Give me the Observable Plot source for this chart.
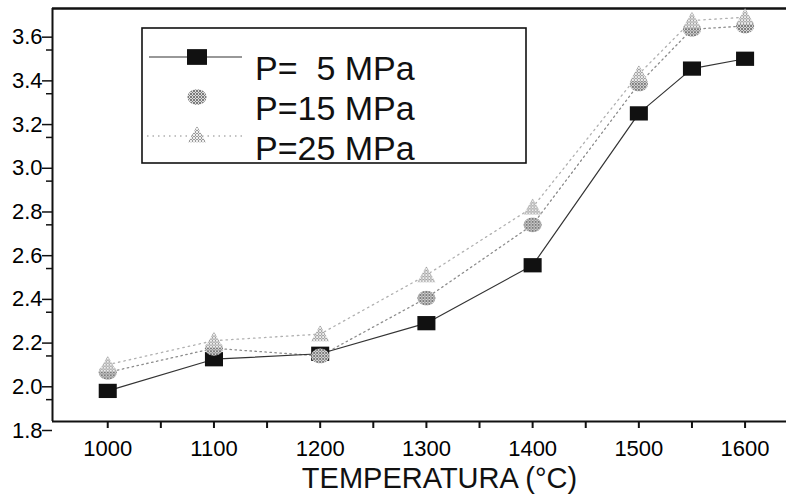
<!DOCTYPE html>
<html><head><meta charset="utf-8">
<script src="https://cdn.jsdelivr.net/npm/d3@7"></script>
<script src="https://cdn.jsdelivr.net/npm/@observablehq/plot@0.6"></script>
<style>
body{margin:0;background:#fff}
#chart{position:relative;width:786px;height:494px}
</style>
</head><body><div id="chart"></div>
<script>
// ---- data ----
const temperatures = [1000, 1100, 1200, 1300, 1400, 1500, 1550, 1600];
const p5  = [1.94, 2.085, 2.11, 2.25, 2.515, 3.21, 3.415, 3.46];
const p15 = [2.025, 2.135, 2.10, 2.365, 2.70, 3.345, 3.595, 3.61];
const p25 = [2.06, 2.17, 2.20, 2.47, 2.78, 3.39, 3.635, 3.65];
const seriesNames = ["P=  5 MPa", "P=15 MPa", "P=25 MPa"];
const xTicks = [1000, 1100, 1200, 1300, 1400, 1500, 1600];
const xMinorTicks = [1050, 1150, 1250, 1350, 1450, 1550];
const yTicks = [1.8, 2.0, 2.2, 2.4, 2.6, 2.8, 3.0, 3.2, 3.4, 3.6];
const yMinorTicks = [1.9, 2.1, 2.3, 2.5, 2.7, 2.9, 3.1, 3.3, 3.5];
const xTitle = "TEMPERATURA (°C)";
const xDomain = [948, 1639];
const yDomain = [1.8, 3.69];

const rows = (vals) => temperatures.map((t, i) => ({t, v: vals[i]}));
const d5 = rows(p5), d15 = rows(p15), d25 = rows(p25);

// ---- custom symbols ----
const wideSquare = {draw(ctx, size){const r=Math.sqrt(size/Math.PI);const w=r*0.95,h=r*0.75;ctx.moveTo(-w,-h);ctx.lineTo(w,-h);ctx.lineTo(w,h);ctx.lineTo(-w,h);ctx.closePath();}};
const ellipse = {draw(ctx, size){const r=Math.sqrt(size/Math.PI);const a=r*0.95,b=r*0.78,k=0.5523;
  ctx.moveTo(a,0);ctx.bezierCurveTo(a,b*k,a*k,b,0,b);ctx.bezierCurveTo(-a*k,b,-a,b*k,-a,0);
  ctx.bezierCurveTo(-a,-b*k,-a*k,-b,0,-b);ctx.bezierCurveTo(a*k,-b,a,-b*k,a,0);ctx.closePath();}};
const tri = {draw(ctx, size){const r=Math.sqrt(size/Math.PI);ctx.moveTo(0,-r*0.95);ctx.lineTo(r*0.95,r*0.75);ctx.lineTo(-r*0.95,r*0.75);ctx.closePath();}};

const font = "'Liberation Sans', Arial, sans-serif";

const plot = Plot.plot({
  width: 786, height: 494,
  marginLeft: 52, marginRight: 0, marginTop: 8, marginBottom: 73,
  style: {fontFamily: font, background: "#fff", color: "#000", overflow: "visible"},
  x: {domain: xDomain},
  y: {domain: yDomain},
  marks: [
    Plot.ruleY([yDomain[1]], {stroke: "#111", strokeWidth: 2.5}),
    Plot.ruleX([xDomain[0]], {stroke: "#111", strokeWidth: 2}),
    Plot.ruleY([yDomain[0]], {stroke: "#111", strokeWidth: 2}),
    Plot.axisX(xTicks, {tickSize: 7, tickPadding: 12, fontSize: 22, label: null, tickFormat: d3.format("d"), strokeWidth: 2, stroke: "#111"}),
    Plot.axisX(xMinorTicks, {tickSize: 7, tickFormat: () => "", label: null, strokeWidth: 2, stroke: "#111"}),
    Plot.axisY(yTicks, {tickSize: 10, tickPadding: 0, dy: 9, fontSize: 22, label: null, tickFormat: d3.format(".1f"), strokeWidth: 1.5, stroke: "#111"}),
    Plot.axisY(yMinorTicks, {tickSize: 6, tickFormat: () => "", label: null, strokeWidth: 1.5, stroke: "#111"}),
    Plot.text([xTitle], {frameAnchor: "bottom", dy: 57, dx: 20, fontSize: 29, lineAnchor: "middle", fill: "#111"}),
    Plot.line(d25, {x: "t", y: "v", stroke: "#b0b0b0", strokeWidth: 1.3, strokeDasharray: "1.5,4"}),
    Plot.line(d15, {x: "t", y: "v", stroke: "#8c8c8c", strokeWidth: 1.3, strokeDasharray: "1.5,3.5"}),
    Plot.line(d5, {x: "t", y: "v", stroke: "#333", strokeWidth: 1.2}),
    Plot.dot(d5, {x: "t", y: "v", symbol: wideSquare, r: 9.5, fill: "#111", stroke: "none"}),
    Plot.dot(d15, {x: "t", y: "v", symbol: ellipse, r: 9.5, fill: "url(#stip15)", stroke: "none"}),
    Plot.dot(d25, {x: "t", y: "v", symbol: tri, r: 9.5, fill: "url(#stip25)", stroke: "none"})
  ]
});

document.getElementById("chart").appendChild(plot);
const svg = d3.select(plot);

// patterns
const defs = svg.insert("defs", ":first-child");
function pattern(id, bg, fg, cells){
  const p = defs.append("pattern").attr("id", id).attr("patternUnits","userSpaceOnUse").attr("width",3).attr("height",3);
  p.append("rect").attr("width",3).attr("height",3).attr("fill",bg);
  cells.forEach(([x,y]) => p.append("rect").attr("x",x).attr("y",y).attr("width",1).attr("height",1).attr("fill",fg));
}
pattern("stip15", "#dcdcdc", "#7c7c7c", [[0,0],[2,0],[1,1],[0,2],[2,2]]);
pattern("stip25", "#eeeeee", "#9a9a9a", [[1,0],[0,1],[2,1],[1,2]]);

// legend
const lg = svg.append("g").attr("font-family", font).attr("text-anchor", "start");
lg.append("rect").attr("x",142).attr("y",28).attr("width",384).attr("height",135).attr("fill","#fff").attr("stroke","#111").attr("stroke-width",1.6);
const sym = (s, r) => { const p = d3.path(); s.draw(p, Math.PI*r*r); return p.toString(); };
lg.append("line").attr("x1",149).attr("x2",242).attr("y1",57).attr("y2",57).attr("stroke","#333").attr("stroke-width",1.2);
lg.append("path").attr("d", sym(wideSquare, 10.5)).attr("transform","translate(197,57)").attr("fill","#111");
lg.append("path").attr("d", sym(ellipse, 10)).attr("transform","translate(197,97)").attr("fill","url(#stip15)");
lg.append("line").attr("x1",147).attr("x2",242).attr("y1",136).attr("y2",136).attr("stroke","#b0b0b0").attr("stroke-width",1.3).attr("stroke-dasharray","1.5,4");
lg.append("path").attr("d", sym(tri, 9.5)).attr("transform","translate(197,135)").attr("fill","url(#stip25)");
[80, 120, 160].forEach((y, i) => {
  lg.append("text").attr("x",255).attr("y",y).attr("font-size",34).attr("fill","#111").attr("text-anchor","start").style("white-space","pre").text(seriesNames[i]);
});
</script>
</body></html>
